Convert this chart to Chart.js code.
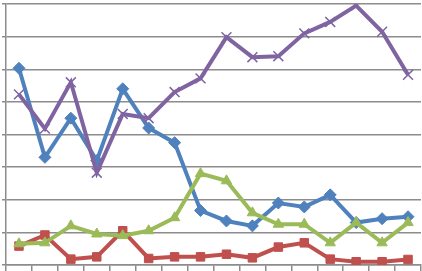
<!DOCTYPE html>
<html>
<head>
<meta charset="utf-8">
<script src="https://cdn.jsdelivr.net/npm/chart.js@4/dist/chart.umd.min.js"></script>
<style>
  html, body { margin: 0; padding: 0; background: #fff; }
  #wrap { width: 422px; height: 271px; }
</style>
</head>
<body>
<div id="wrap"><canvas id="chart"></canvas></div>
<script>
// categories along the bottom (no labels shown in the picture)
const categories = ['1', '2', '3', '4', '5', '6', '7', '8', '9', '10', '11', '12', '13', '14', '15', '16'];

// series values
const blueValues = [6.03, 3.3, 4.5, 3.2, 5.4, 4.2, 3.75, 1.67, 1.35, 1.2, 1.9, 1.78, 2.15, 1.3, 1.42, 1.48];
const redValues = [0.58, 0.92, 0.18, 0.25, 1.05, 0.2, 0.25, 0.25, 0.33, 0.22, 0.55, 0.68, 0.18, 0.1, 0.1, 0.17];
const greenValues = [0.65, 0.68, 1.2, 0.95, 0.9, 1.05, 1.45, 2.8, 2.58, 1.6, 1.25, 1.25, 0.68, 1.3, 0.68, 1.3];
const purpleValues = [5.23, 4.18, 5.6, 2.83, 4.63, 4.5, 5.3, 5.72, 6.98, 6.37, 6.4, 7.1, 7.45, 7.95, 7.15, 5.83];

const yMin = 0;
const yMax = 8;

function series(data, color, style, radius, pointBorder) {
    return {
        data: data,
        borderColor: color,
        backgroundColor: color,
        pointBackgroundColor: color,
        pointBorderColor: color,
        pointStyle: style,
        pointRadius: radius,
        pointBorderWidth: pointBorder,
        borderWidth: 4,
        tension: 0,
        fill: false,
    };
}

const ctx = document.getElementById('chart').getContext('2d');

new Chart(ctx, {
    type: 'line',
    data: {
        labels: categories,
        datasets: [
            series(purpleValues, '#8064A2', 'crossRot', 7, 1.5),
            series(greenValues, '#9BBB59', 'triangle', 6, 1),
            series(redValues, '#C0504D', 'rect', 6, 1),
            series(blueValues, '#4F81BD', 'rectRot', 6, 1),
        ],
    },
    options: {
        responsive: true,
        maintainAspectRatio: false,
        animation: false,
        layout: { autoPadding: false, padding: { top: 4, left: 2, right: 1, bottom: 0 } },
        plugins: {
            legend: { display: false },
            tooltip: { enabled: false },
        },
        scales: {
            x: {
                offset: true,
                grid: {
                    offset: true,
                    drawOnChartArea: false,
                    drawTicks: true,
                    tickLength: 6,
                    color: '#8c8c8c',
                    lineWidth: 1.5,
                },
                border: { color: '#8c8c8c', width: 1.5 },
                ticks: { display: false },
            },
            y: {
                min: yMin,
                max: yMax,
                grid: {
                    color: '#8c8c8c',
                    lineWidth: 1.5,
                    drawTicks: true,
                    tickLength: 4,
                },
                border: { color: '#8c8c8c', width: 1.5 },
                ticks: { display: false, stepSize: 1 },
            },
        },
    },
});
</script>
</body>
</html>
